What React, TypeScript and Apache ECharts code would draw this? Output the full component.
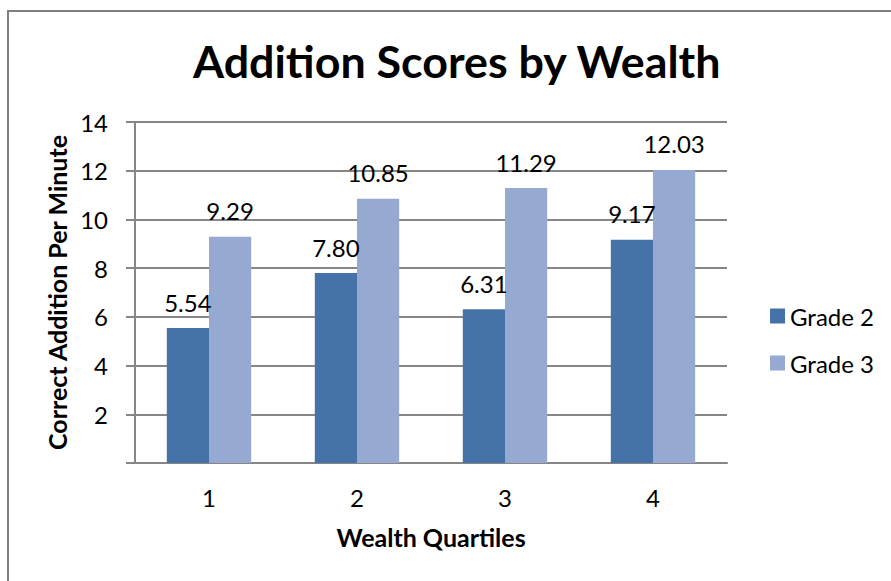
import React, { useEffect, useRef } from "react";
import * as echarts from "echarts";

const categories = ["1", "2", "3", "4"];
const grade2 = [5.54, 7.8, 6.31, 9.17];
const grade3 = [9.29, 10.85, 11.29, 12.03];
const seriesNames = ["Grade 2", "Grade 3"];
const titleText = "Addition Scores by Wealth";
const yAxisName = "Correct Addition Per Minute";
const xAxisName = "Wealth Quartiles";

const FONT = "Lato, 'Open Sans', sans-serif";

export default function App() {
  const ref = useRef<HTMLDivElement>(null);
  useEffect(() => {
    if (!ref.current) return;
    const chart = echarts.init(ref.current, undefined, { renderer: "svg" });
    const label = {
      show: true,
      position: "top" as const,
      distance: 14,
      fontSize: 24,
      fontFamily: FONT,
      color: "#000",
      formatter: (p: any) => Number(p.value).toFixed(2),
    };
    chart.setOption({
      animation: false,
      backgroundColor: "#fff",
      textStyle: { fontFamily: FONT },
      title: {
        text: titleText,
        left: 188,
        top: 33,
        textStyle: { fontSize: 44.8, fontWeight: "bold", color: "#000", fontFamily: FONT },
      },
      graphic: [
        {
          type: "rect",
          shape: { x: 8, y: 11, width: 900, height: 600 },
          style: { fill: "none", stroke: "#808080", lineWidth: 2 },
          silent: true,
        },
      ],
      legend: {
        orient: "vertical",
        left: 770,
        top: 304,
        padding: 0,
        itemWidth: 15,
        itemHeight: 15,
        itemGap: 23,
        icon: "rect",
        textStyle: { fontSize: 24, color: "#000", fontFamily: FONT },
        data: seriesNames,
      },
      grid: { left: 135, right: 164, top: 122, bottom: 118, containLabel: false },
      xAxis: {
        type: "category",
        data: categories,
        name: xAxisName,
        nameLocation: "middle",
        nameGap: 61,
        nameTextStyle: { fontSize: 25, fontWeight: "bold", color: "#000", fontFamily: FONT },
        axisLine: { lineStyle: { color: "#868686", width: 2 } },
        axisTick: { show: false },
        axisLabel: { fontSize: 24, color: "#000", margin: 22, fontFamily: FONT },
      },
      yAxis: {
        type: "value",
        min: 0,
        max: 14,
        interval: 2,
        name: yAxisName,
        nameLocation: "middle",
        nameGap: 58,
        nameTextStyle: { fontSize: 25, fontWeight: "bold", color: "#000", fontFamily: FONT },
        axisLine: { show: true, lineStyle: { color: "#868686", width: 2 } },
        axisTick: { show: true, length: 9, lineStyle: { color: "#868686", width: 2 } },
        axisLabel: {
          fontSize: 24,
          color: "#000",
          margin: 27,
          fontFamily: FONT,
          formatter: (v: number) => (v === 0 ? "" : String(v)),
        },
        splitLine: { show: true, lineStyle: { color: "#868686", width: 2 } },
      },
      series: [
        {
          name: seriesNames[0],
          type: "bar",
          data: grade2,
          barGap: "0%",
          barCategoryGap: "43%",
          itemStyle: { color: "#4673A7" },
          label,
        },
        {
          name: seriesNames[1],
          type: "bar",
          data: grade3,
          barGap: "0%",
          barCategoryGap: "43%",
          itemStyle: { color: "#95A9D1" },
          label,
        },
      ],
    });
    return () => chart.dispose();
  }, []);
  return (
    <div
      ref={ref}
      style={{ position: "fixed", left: 0, top: 0, width: 891, height: 581 }}
    />
  );
}
